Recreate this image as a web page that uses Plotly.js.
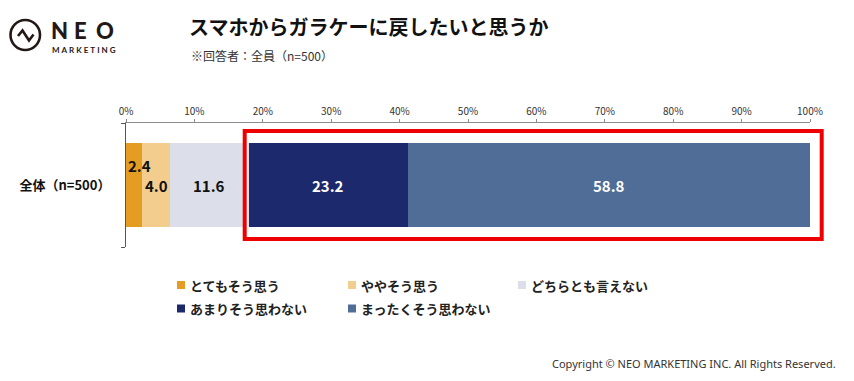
<!DOCTYPE html>
<html>
<head>
<meta charset="utf-8">
<script src="https://cdn.plot.ly/plotly-3.0.1.min.js"></script>
<style>
  html, body { margin: 0; padding: 0; background: #fff; }
  #chart { width: 854px; height: 381px; }
</style>
</head>
<body>
<div id="chart"></div>
<script>
// Survey: would you switch back from a smartphone to a feature phone?
const categories = ['全体（n=500）'];
const seriesNames = ['とてもそう思う', 'ややそう思う', 'どちらとも言えない', 'あまりそう思わない', 'まったくそう思わない'];
const seriesValues = [[2.4], [4.0], [11.6], [23.2], [58.8]];
const seriesColors = ['#E59C22', '#F2CD8E', '#DCDEE9', '#1C296C', '#4F6D96'];
const labelColors = ['#111111', '#111111', '#111111', '#ffffff', '#ffffff'];
const tickValues = [0, 10, 20, 30, 40, 50, 60, 70, 80, 90, 100];
const tickLabels = ['0%', '10%', '20%', '30%', '40%', '50%', '60%', '70%', '80%', '90%', '100%'];

const JP = '"Noto Sans CJK JP", "Noto Sans", sans-serif';
const W = 854, H = 381;
const M = { l: 126, r: 44, t: 123, b: 134 };
const PW = W - M.l - M.r, PH = H - M.t - M.b;
// pixel -> paper helpers for the decorations around the plot
const px = v => (v - M.l) / PW;
const py = v => (H - M.b - v) / PH;

const traces = seriesNames.map((name, i) => ({
  type: 'bar',
  orientation: 'h',
  name: name,
  y: categories,
  x: seriesValues[i],
  marker: { color: seriesColors[i], line: { width: 0 } },
  width: 0.68,
  hoverinfo: 'skip'
}));

// value labels placed at each segment's midpoint
const annotations = [];
categories.forEach((cat, c) => {
  let start = 0;
  seriesValues.forEach((vals, i) => {
    const v = vals[c];
    const narrow = v < 3;
    annotations.push({
      x: narrow ? start : start + v / 2,
      y: cat,
      xref: 'x', yref: 'y',
      xanchor: narrow ? 'left' : 'center',
      yanchor: 'middle',
      yshift: narrow ? 20 : 0,
      text: v.toFixed(1),
      showarrow: false,
      font: { family: JP, size: 15, color: labelColors[i], weight: 'bold' }
    });
    start += v;
  });
});

const shapes = [];

// key below the chart: three columns, two rows
const keyCols = [177, 348, 518];
const keyRows = [285, 308.5];
const keySize = 8;
seriesNames.forEach((name, i) => {
  const kx = keyCols[i % 3];
  const ky = keyRows[Math.floor(i / 3)];
  shapes.push({
    type: 'rect', xref: 'paper', yref: 'paper',
    x0: px(kx), x1: px(kx + keySize),
    y0: py(ky + keySize / 2), y1: py(ky - keySize / 2),
    fillcolor: seriesColors[i], line: { width: 0 }
  });
  annotations.push({
    xref: 'paper', yref: 'paper', x: px(kx + keySize + 3), y: py(ky),
    xanchor: 'left', yanchor: 'middle', text: name, showarrow: false,
    font: { family: JP, size: 13, color: '#222', weight: 'bold' }
  });
});

// subtitle, brand mark and footer
annotations.push(
  { xref: 'paper', yref: 'paper', x: px(189), y: py(55), xanchor: 'left', yanchor: 'middle',
    text: '※回答者：全員（n=500）', showarrow: false,
    font: { family: JP, size: 12, color: '#333' } },
  { xref: 'paper', yref: 'paper', x: px(59.5), y: py(30), xanchor: 'center', yanchor: 'middle',
    text: 'N', showarrow: false, font: { family: 'Lato, sans-serif', size: 22, color: '#231815', weight: 900 } },
  { xref: 'paper', yref: 'paper', x: px(80.5), y: py(30), xanchor: 'center', yanchor: 'middle',
    text: 'E', showarrow: false, font: { family: 'Lato, sans-serif', size: 22, color: '#231815', weight: 900 } },
  { xref: 'paper', yref: 'paper', x: px(105), y: py(30), xanchor: 'center', yanchor: 'middle',
    text: 'O', showarrow: false, font: { family: 'Lato, sans-serif', size: 22, color: '#231815', weight: 900 } },
  { xref: 'paper', yref: 'paper', x: px(84), y: py(49.5), xanchor: 'center', yanchor: 'middle',
    text: 'M\u2009\u2009A\u2009\u2009R\u2009\u2009K\u2009\u2009E\u2009\u2009T\u2009\u2009I\u2009\u2009N\u2009\u2009G', showarrow: false,
    font: { family: 'Lato, sans-serif', size: 8, color: '#231815', weight: 'bold' } },
  { xref: 'paper', yref: 'paper', x: px(838), y: py(363), xanchor: 'right', yanchor: 'middle',
    text: 'Copyright © NEO MARKETING INC. All Rights Reserved.', showarrow: false,
    font: { family: '"Noto Sans", sans-serif', size: 11, color: '#333' } }
);

const zig = [[18, 36], [22.5, 30.5], [29, 40.5], [33.5, 34.5]];
const zigPath = 'M ' + zig.map(p => px(p[0]) + ' ' + py(p[1])).join(' L ');

shapes.push(
  // highlight frame around the negative answers
  { type: 'rect', xref: 'paper', yref: 'paper', layer: 'above',
    x0: px(246.5), x1: px(821.5), y0: py(239), y1: py(131),
    line: { color: '#FFFFFF', width: 3 }, fillcolor: 'rgba(0,0,0,0)' },
  { type: 'rect', xref: 'paper', yref: 'paper', layer: 'above',
    x0: px(244.7), x1: px(821.7), y0: py(239), y1: py(131),
    line: { color: '#EE0000', width: 4 }, fillcolor: 'rgba(0,0,0,0)' },
  // brand mark
  { type: 'circle', xref: 'paper', yref: 'paper',
    x0: px(10.5), x1: px(40), y0: py(50), y1: py(20),
    line: { color: '#231815', width: 2.6 } },
  { type: 'path', xref: 'paper', yref: 'paper', path: zigPath,
    line: { color: '#231815', width: 2.6 } }
);

const layout = {
  width: W, height: H,
  margin: M,
  paper_bgcolor: '#ffffff',
  plot_bgcolor: '#ffffff',
  barmode: 'stack',
  showlegend: false,
  title: {
    text: 'スマホからガラケーに戻したいと思うか',
    xref: 'container', yref: 'container',
    x: 189 / W, xanchor: 'left',
    y: 1 - 28 / H, yanchor: 'middle',
    font: { family: JP, size: 20, color: '#111', weight: 'bold' }
  },
  xaxis: {
    side: 'top',
    range: [0, 100],
    tickvals: tickValues,
    ticktext: tickLabels,
    showgrid: false,
    zeroline: false,
    showline: true,
    linecolor: '#8c8c8c',
    linewidth: 1,
    ticks: 'outside',
    ticklen: 3,
    tickcolor: '#8c8c8c',
    tickfont: { family: JP, size: 10, color: '#333' },
    fixedrange: true
  },
  yaxis: {
    range: [-0.5, 0.5],
    showgrid: false,
    zeroline: false,
    showline: true,
    linecolor: '#555',
    linewidth: 1,
    ticks: 'outside',
    tickson: 'boundaries',
    ticklen: 4,
    tickcolor: '#555',
    ticklabelstandoff: 12,
    tickfont: { family: JP, size: 13, color: '#111', weight: 'bold' },
    fixedrange: true
  },
  annotations: annotations,
  shapes: shapes
};

Plotly.newPlot('chart', traces, layout, { displayModeBar: false, staticPlot: true });
</script>
</body>
</html>
